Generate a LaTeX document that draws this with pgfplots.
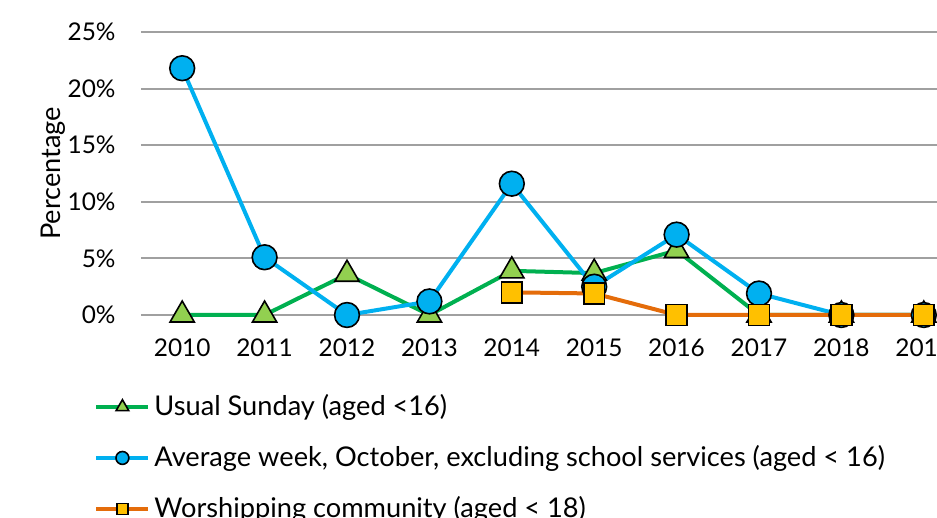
\documentclass[border=0pt]{standalone}
\usepackage{fontspec}
\setmainfont{Lato}
\usepackage{pgfplots}
\pgfplotsset{compat=1.18}
\definecolor{cgreen}{HTML}{00B050}
\definecolor{cgreenfill}{HTML}{92D050}
\definecolor{cblue}{HTML}{00B0F0}
\definecolor{corange}{HTML}{E46C0A}
\definecolor{cyellow}{HTML}{FFC000}
\definecolor{cgrid}{HTML}{A0A0A0}
\begin{document}
\fontsize{13.6pt}{16pt}\selectfont
\begin{tikzpicture}
\useasboundingbox (0,0) rectangle (468.5pt,259pt);
\clip (0,0) rectangle (468.5pt,259pt);
\begin{axis}[
  at={(70.5pt,101.5pt)}, anchor=south west,
  scale only axis, width=412pt, height=141.5pt,
  xmin=2009.5, xmax=2019.5, ymin=0, ymax=25,
  xtick={2010,...,2019},
  xticklabels={2010,2011,2012,2013,2014,2015,2016,2017,2018,2019},
  ytick={0,5,...,25},
  yticklabel={\pgfmathprintnumber{\tick}\%},
  /pgf/number format/assume math mode=true,
  tick label style={font=\fontsize{12.2pt}{14pt}\selectfont},
  axis line style={draw=none},
  major tick length=0pt,
  ymajorgrids, grid style={cgrid, line width=1pt},
  yticklabel style={xshift=-8pt},
  xticklabel style={yshift=-7pt},
  ylabel={Percentage},
  ylabel style={at={(axis description cs:-0.107,0.5)}, anchor=center},
  clip=false,
  legend style={at={(axis description cs:-0.057,-0.265)}, anchor=north west, draw=none, fill=none, inner sep=0pt, row sep=8.9pt, font=\fontsize{13.6pt}{16pt}\selectfont},
  legend cell align=left,
  legend image code/.code={\draw[#1, every mark/.append style={scale=0.52}] (0pt,0pt) -- (26pt,0pt); \draw[#1, every mark/.append style={scale=0.52}] plot coordinates {(13pt,0pt)};},
]
\addplot[cgreen, line width=2pt, mark=triangle*, mark size=7pt, mark options={fill=cgreenfill, draw=black, line width=0.8pt}]
  coordinates {(2010,0) (2011,0) (2012,3.6) (2013,0) (2014,3.9) (2015,3.7) (2016,5.7) (2017,0) (2018,0) (2019,0)};
\addlegendentry{Usual Sunday (aged <16)}
\addplot[cblue, line width=2pt, mark=*, mark size=6.2pt, mark options={fill=cblue, draw=black, line width=0.8pt}]
  coordinates {(2010,21.8) (2011,5.1) (2012,0) (2013,1.2) (2014,11.6) (2015,2.5) (2016,7.1) (2017,1.9) (2018,0) (2019,0)};
\addlegendentry{Average week, October, excluding school services (aged < 16)}
\addplot[corange, line width=2pt, mark=square*, mark size=5.2pt, mark options={fill=cyellow, draw=black, line width=0.8pt}]
  coordinates {(2014,2.0) (2015,1.9) (2016,0) (2017,0) (2018,0) (2019,0)};
\addlegendentry{Worshipping community (aged < 18)}
\end{axis}
\end{tikzpicture}
\end{document}
